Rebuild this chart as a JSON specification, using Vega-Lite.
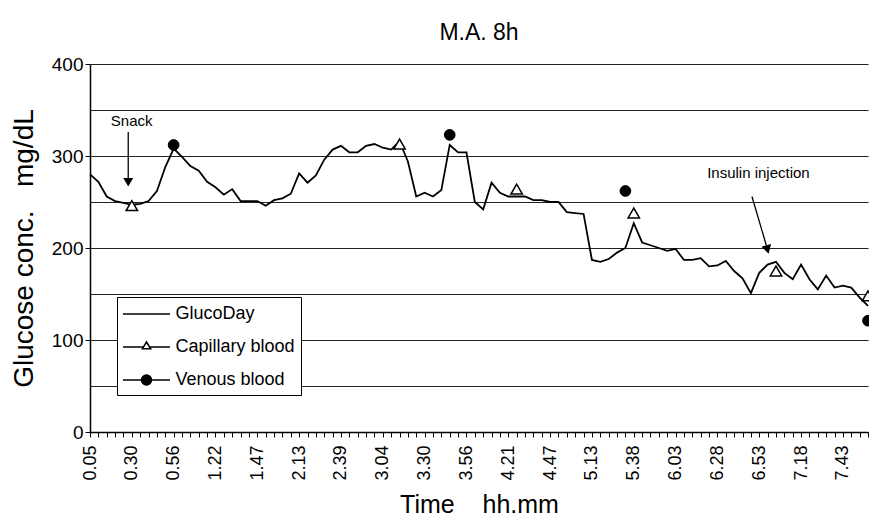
{
  "$schema": "https://vega.github.io/schema/vega-lite/v6.json",
  "width": 778,
  "height": 368,
  "autosize": {"type": "none"},
  "padding": {"left": 90, "top": 64, "right": 1, "bottom": 85},
  "background": "white",
  "config": {
    "font": "Liberation Sans",
    "view": {"stroke": null}
  },
  "title": {"text": "M.A. 8h", "fontSize": 23, "fontWeight": "normal", "color": "black", "font": "Liberation Sans", "offset": 10, "anchor": "middle"},
  "datasets": {
    "gluco": [
      {"i":0,"v":280},{"i":1,"v":272},{"i":2,"v":256},{"i":3,"v":251},{"i":4,"v":249},{"i":5,"v":247},{"i":6,"v":248},{"i":7,"v":251},{"i":8,"v":262},{"i":9,"v":288},
      {"i":10,"v":308},{"i":11,"v":299},{"i":12,"v":289},{"i":13,"v":284},{"i":14,"v":272},{"i":15,"v":266},{"i":16,"v":258},{"i":17,"v":264},{"i":18,"v":251},{"i":19,"v":251},
      {"i":20,"v":251},{"i":21,"v":246},{"i":22,"v":252},{"i":23,"v":254},{"i":24,"v":259},{"i":25,"v":281},{"i":26,"v":271},{"i":27,"v":279},{"i":28,"v":296},{"i":29,"v":307},
      {"i":30,"v":311},{"i":31,"v":304},{"i":32,"v":304},{"i":33,"v":311},{"i":34,"v":313},{"i":35,"v":309},{"i":36,"v":307},{"i":37,"v":316},{"i":38,"v":294},{"i":39,"v":256},
      {"i":40,"v":260},{"i":41,"v":256},{"i":42,"v":263},{"i":43,"v":312},{"i":44,"v":304},{"i":45,"v":304},{"i":46,"v":250},{"i":47,"v":242},{"i":48,"v":271},{"i":49,"v":260},
      {"i":50,"v":256},{"i":51,"v":256},{"i":52,"v":256},{"i":53,"v":252},{"i":54,"v":252},{"i":55,"v":250},{"i":56,"v":250},{"i":57,"v":239},{"i":58,"v":238},{"i":59,"v":237},
      {"i":60,"v":187},{"i":61,"v":185},{"i":62,"v":188},{"i":63,"v":195},{"i":64,"v":200},{"i":65,"v":227},{"i":66,"v":206},{"i":67,"v":203},{"i":68,"v":200},{"i":69,"v":197},
      {"i":70,"v":199},{"i":71,"v":187},{"i":72,"v":187},{"i":73,"v":189},{"i":74,"v":180},{"i":75,"v":181},{"i":76,"v":186},{"i":77,"v":175},{"i":78,"v":167},{"i":79,"v":151},
      {"i":80,"v":173},{"i":81,"v":182},{"i":82,"v":185},{"i":83,"v":173},{"i":84,"v":166},{"i":85,"v":182},{"i":86,"v":166},{"i":87,"v":155},{"i":88,"v":170},{"i":89,"v":157},
      {"i":90,"v":159},{"i":91,"v":157},{"i":92,"v":146},{"i":93,"v":137}
    ],
    "blood": [
      {"i":5,"v":246,"series":"Capillary blood"},
      {"i":37,"v":313,"series":"Capillary blood"},
      {"i":51,"v":264,"series":"Capillary blood"},
      {"i":65,"v":238,"series":"Capillary blood"},
      {"i":82,"v":175,"series":"Capillary blood"},
      {"i":93,"v":148,"series":"Capillary blood"},
      {"i":10,"v":312,"series":"Venous blood"},
      {"i":43,"v":323,"series":"Venous blood"},
      {"i":64,"v":262,"series":"Venous blood"},
      {"i":93,"v":121,"series":"Venous blood"}
    ],
    "arrows": [
      {"name":"Snack","i":4.57,"v":326,"i2":4.57,"v2":276},
      {"name":"Insulin injection","i":79.13,"v":256,"i2":80.84,"v2":203}
    ],
    "heads": [
      {"name":"Snack","i":4.57,"v":271.5},
      {"name":"Insulin injection","i":80.98,"v":198.3}
    ],
    "labels": [
      {"name":"Snack","i":4.98,"v":338},
      {"name":"Insulin injection","i":79.9,"v":282}
    ]
  },
  "encoding": {
    "x": {
      "field": "i", "type": "quantitative",
      "scale": {"domain": [0, 93], "nice": false, "zero": false},
      "axis": {
        "values": [0,1,2,3,4,5,6,7,8,9,10,11,12,13,14,15,16,17,18,19,20,21,22,23,24,25,26,27,28,29,30,31,32,33,34,35,36,37,38,39,40,41,42,43,44,45,46,47,48,49,50,51,52,53,54,55,56,57,58,59,60,61,62,63,64,65,66,67,68,69,70,71,72,73,74,75,76,77,78,79,80,81,82,83,84,85,86,87,88,89,90,91,92,93],
        "labelExpr": "datum.value % 5 === 0 ? ['0.05','0.30','0.56','1.22','1.47','2.13','2.39','3.04','3.30','3.56','4.21','4.47','5.13','5.38','6.03','6.28','6.53','7.18','7.43'][datum.value / 5] : ''",
        "labelAngle": 270,
        "labelFontSize": 18,
        "labelColor": "black",
        "labelPadding": 8,
        "labelOverlap": false,
        "labelFlush": false,
        "labelBound": false,
        "tickSize": 5,
        "tickColor": "black",
        "domainColor": "black",
        "domainWidth": 1.5,
        "grid": false,
        "title": "Time\u00a0\u00a0\u00a0\u00a0hh.mm",
        "titleFontSize": 25,
        "titleFontWeight": "normal",
        "titleColor": "black",
        "titlePadding": 12
      }
    },
    "y": {
      "field": "v", "type": "quantitative",
      "scale": {"domain": [0, 400], "nice": false},
      "axis": {
        "values": [0,50,100,150,200,250,300,350,400],
        "labelExpr": "datum.value % 100 === 0 ? datum.label : ''",
        "grid": true,
        "gridColor": "#222",
        "gridWidth": 1,
        "tickOpacity": {"condition": {"test": "datum.value % 100 !== 0", "value": 0}, "value": 1},
        "tickColor": "black",
        "tickSize": 5,
        "domainColor": "black",
        "domainWidth": 1.5,
        "labelFontSize": 19,
        "labelColor": "black",
        "labelPadding": 2,
        "title": "Glucose conc.\u00a0\u00a0\u00a0mg/dL",
        "titleFontSize": 28,
        "titleFontWeight": "normal",
        "titleColor": "black",
        "titlePadding": 13
      }
    }
  },
  "layer": [
    {
      "data": {"name": "gluco"},
      "mark": {"type": "line", "color": "black", "strokeWidth": 1.8}
    },
    {
      "data": {"name": "arrows"},
      "mark": {"type": "rule", "color": "black", "strokeWidth": 1.3},
      "encoding": {
        "x2": {"field": "i2"},
        "y2": {"field": "v2"}
      }
    },
    {
      "data": {"name": "heads"},
      "mark": {"type": "point", "shape": "triangle-down", "filled": true, "color": "black", "size": 100, "opacity": 1},
      "encoding": {
        "angle": {"field": "name", "type": "nominal", "scale": {"domain": ["Snack", "Insulin injection"], "range": [0, 344]}, "legend": null}
      }
    },
    {
      "data": {"name": "labels"},
      "mark": {"type": "text", "fontSize": 15, "color": "black", "align": "center", "baseline": "middle", "font": "Liberation Sans"},
      "encoding": {
        "text": {"field": "name"}
      }
    },
    {
      "data": {"name": "blood"},
      "mark": {"type": "point", "filled": true, "size": 130, "opacity": 0, "stroke": "black", "strokeWidth": 1.5},
      "encoding": {
        "fill": {"field": "series", "type": "nominal", "scale": {"domain": ["GlucoDay", "Capillary blood", "Venous blood"], "range": ["white", "white", "black"]}, "legend": null},
        "shape": {
          "field": "series", "type": "nominal",
          "scale": {"domain": ["GlucoDay", "Capillary blood", "Venous blood"], "range": ["M-2.35,0H2.35", "M-2.35,0H-0.33M0.33,0H2.35M-0.42,0.18L0,-0.5L0.42,0.18Z", "M-2.35,0H2.35M-0.5,0A0.5,0.5 0 1,0 0.5,0A0.5,0.5 0 1,0 -0.5,0Z"]},
          "legend": {
            "orient": "none",
            "legendX": 27,
            "legendY": 233,
            "title": null,
            "padding": 6,
            "strokeColor": "black",
            "fillColor": "white",
            "cornerRadius": 0,
            "labelFontSize": 18,
            "labelColor": "black",
            "labelFont": "Liberation Sans",
            "symbolSize": 400,
            "symbolOffset": 12.5,
            "labelOffset": 18,
            "rowPadding": 13,
            "symbolOpacity": 1,
            "symbolStrokeWidth": 1.5
          }
        }
      }
    },
    {
      "data": {"name": "blood"},
      "transform": [{"filter": "datum.series === 'Capillary blood'"}],
      "mark": {"type": "point", "shape": "triangle-up", "filled": true, "fill": "white", "stroke": "black", "strokeWidth": 1.5, "size": 130, "opacity": 1}
    },
    {
      "data": {"name": "blood"},
      "transform": [{"filter": "datum.series === 'Venous blood'"}],
      "mark": {"type": "point", "shape": "circle", "filled": true, "fill": "black", "stroke": "black", "strokeWidth": 1, "size": 115, "opacity": 1}
    }
  ]
}
